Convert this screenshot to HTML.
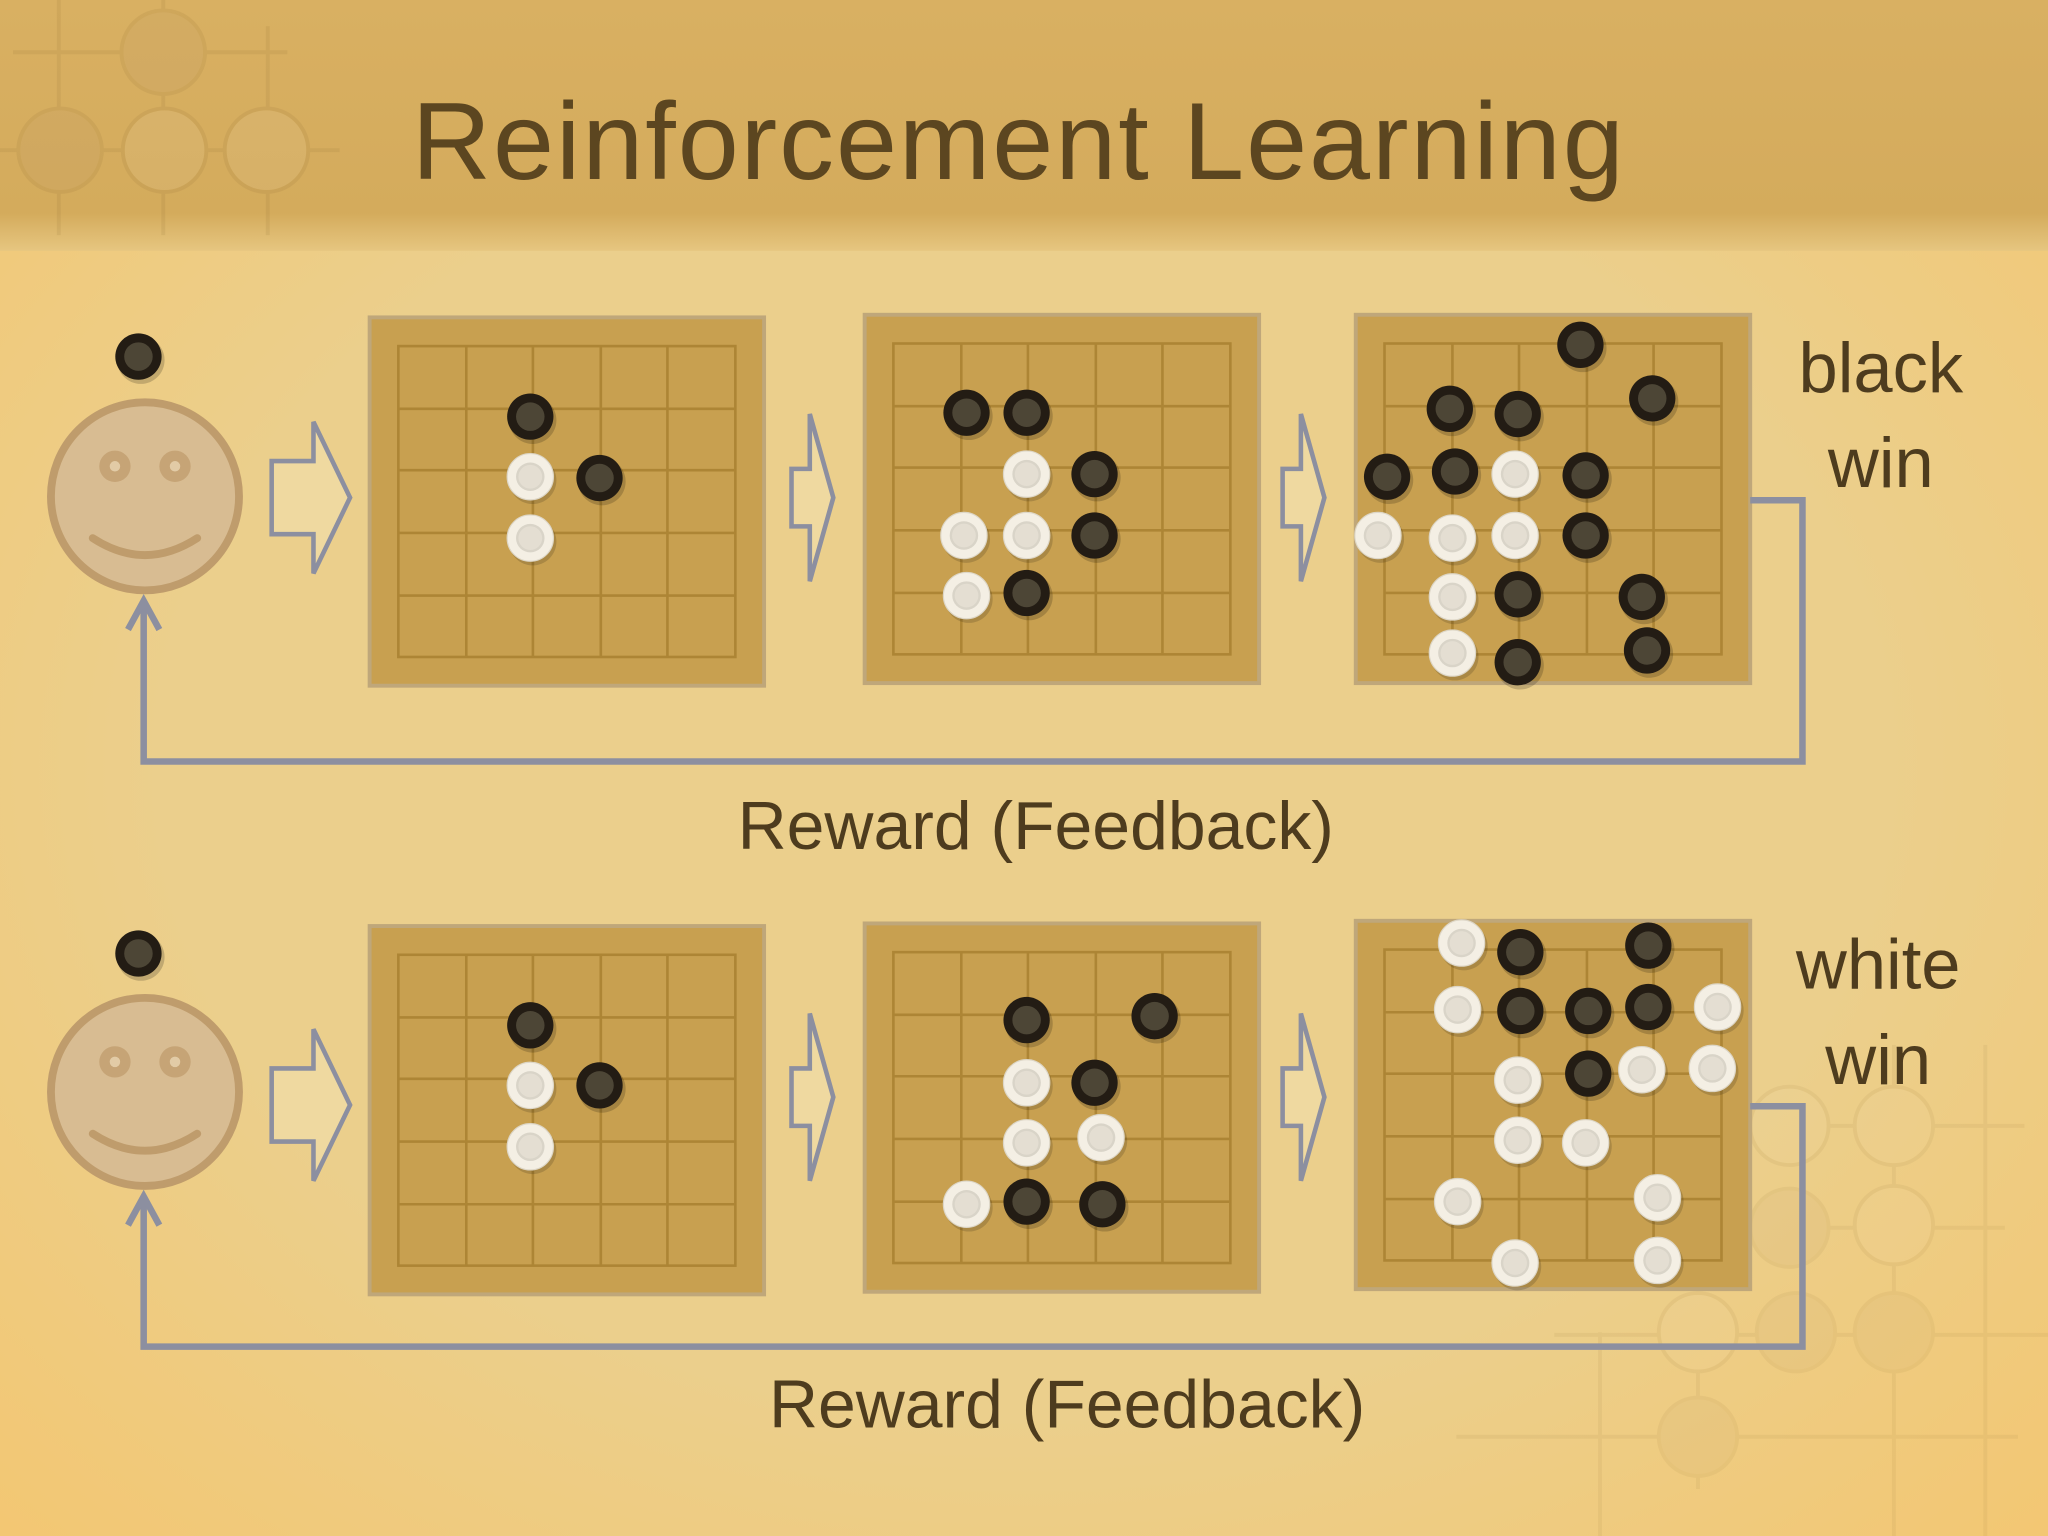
<!DOCTYPE html>
<html><head><meta charset="utf-8"><style>
html,body{margin:0;padding:0;width:2048px;height:1536px;overflow:hidden;background:#ebcf8c}
svg{display:block}
text{font-family:"Liberation Sans",sans-serif}
</style></head><body>
<svg width="2048" height="1536" viewBox="0 0 1568 1176" xmlns="http://www.w3.org/2000/svg">
<defs>
<radialGradient id="bg" cx="50%" cy="50%" r="70%">
<stop offset="0.6" stop-color="#ebcf8c"/><stop offset="1" stop-color="#f3c773"/>
</radialGradient>
<linearGradient id="hd" x1="0" y1="0" x2="0" y2="1">
<stop offset="0" stop-color="#d9b062"/><stop offset="0.85" stop-color="#d4ab5c"/><stop offset="1" stop-color="#e6c680"/>
</linearGradient>
<symbol id="bk" viewBox="-22 -22 44 44" overflow="visible">
<circle cx="2" cy="3" r="20" fill="#000" opacity="0.18"/>
<circle r="19.5" fill="#231c14"/><circle r="12" fill="#4d4636"/>
</symbol>
<symbol id="wt" viewBox="-22 -22 44 44" overflow="visible">
<circle cx="2" cy="3" r="20" fill="#000" opacity="0.15"/>
<circle r="19.5" fill="#f4efe4" stroke="#ddd6c6" stroke-width="1"/><circle r="12" fill="#d9d4c8"/><circle r="10" fill="#e4ded2"/>
</symbol>
<g id="board">
<rect x="0" y="0" width="302" height="282" fill="#c8a050" stroke="#bfa77a" stroke-width="3"/>
<g stroke="#ad8535" stroke-width="2" fill="none">
<rect x="22" y="22" width="258" height="238"/>
<line x1="74" y1="22" x2="74" y2="260"/><line x1="125" y1="22" x2="125" y2="260"/><line x1="177" y1="22" x2="177" y2="260"/><line x1="228" y1="22" x2="228" y2="260"/>
<line x1="22" y1="70" x2="280" y2="70"/><line x1="22" y1="117" x2="280" y2="117"/><line x1="22" y1="165" x2="280" y2="165"/><line x1="22" y1="213" x2="280" y2="213"/>
</g></g>
<g id="face">
<circle r="72" fill="#d8bc92" stroke="#bf9c6c" stroke-width="6"/>
<circle cx="-23" cy="-23" r="12" fill="#c6a476"/><circle cx="-23" cy="-23" r="4" fill="#e2cba6"/>
<circle cx="23" cy="-23" r="12" fill="#c6a476"/><circle cx="23" cy="-23" r="4" fill="#e2cba6"/>
<path d="M-40 32 Q0 58 40 32" fill="none" stroke="#bf9c6c" stroke-width="6" stroke-linecap="round"/>
</g>
<path id="bigarrow" d="M0 -28 H32 V-58 L60 0 L32 58 V28 H0 Z" fill="#efd9a0" stroke="#8c8fa0" stroke-width="3.5"/>
<path id="smarrow" d="M0 -22 H14 V-64 L32 0 L14 64 V22 H0 Z" fill="#efd9a0" stroke="#8c8fa0" stroke-width="3.5"/>
</defs>
<rect width="1568" height="1176" fill="url(#bg)"/>
<rect width="1568" height="192" fill="url(#hd)"/>
<g opacity="0.12" stroke="#8a6a30" stroke-width="3" fill="#b09070">
<line x1="10" y1="40" x2="220" y2="40"/><line x1="0" y1="115" x2="260" y2="115"/>
<line x1="45" y1="0" x2="45" y2="180"/><line x1="125" y1="0" x2="125" y2="180"/><line x1="205" y1="20" x2="205" y2="180"/>
<circle cx="125" cy="40" r="32"/><circle cx="46" cy="115" r="32"/><circle cx="126" cy="115" r="32" fill="#e8d8b8"/><circle cx="204" cy="115" r="32" fill="#e8d8b8"/>
</g>
<g opacity="0.08" stroke="#8a6a30" stroke-width="3" fill="#b09070">
<line x1="1340" y1="862" x2="1550" y2="862"/><line x1="1330" y1="940" x2="1535" y2="940"/><line x1="1190" y1="1022" x2="1568" y2="1022"/><line x1="1115" y1="1100" x2="1545" y2="1100"/>
<line x1="1300" y1="960" x2="1300" y2="1140"/><line x1="1450" y1="800" x2="1450" y2="1176"/><line x1="1520" y1="800" x2="1520" y2="1176"/><line x1="1225" y1="1020" x2="1225" y2="1176"/>
<circle cx="1370" cy="862" r="30" fill="#f0e0c0"/><circle cx="1450" cy="862" r="30" fill="#f0e0c0"/><circle cx="1450" cy="938" r="30" fill="#f0e0c0"/><circle cx="1370" cy="940" r="30"/>
<circle cx="1300" cy="1020" r="30" fill="#f0e0c0"/><circle cx="1375" cy="1020" r="30"/><circle cx="1450" cy="1020" r="30"/><circle cx="1300" cy="1100" r="30"/>
</g>
<text x="780" y="137" text-anchor="middle" font-size="84" fill="#5c4620" letter-spacing="1.5">Reinforcement Learning</text>

<!-- row 1 -->
<use href="#face" x="111" y="380"/>
<use href="#bk" x="86" y="253" width="40" height="40"/>
<use href="#bigarrow" x="208" y="381"/>
<use href="#smarrow" x="606" y="381"/>
<use href="#smarrow" x="982" y="381"/>
<use href="#board" x="283" y="243"/>
<use href="#board" x="662" y="241"/>
<use href="#board" x="1038" y="241"/>
<polyline points="1340,383 1380,383 1380,583 110,583 110,462" fill="none" stroke="#8c8fa0" stroke-width="5"/>
<polyline points="98,482 110,460 122,482" fill="none" stroke="#8c8fa0" stroke-width="5"/>
<text x="1440" y="300" text-anchor="middle" font-size="54" fill="#4e3c1e">black</text>
<text x="1440" y="373" text-anchor="middle" font-size="54" fill="#4e3c1e">win</text>
<text x="793" y="650" text-anchor="middle" font-size="52" fill="#4e3c1e">Reward (Feedback)</text>

<!-- row 2 -->
<use href="#face" x="111" y="836"/>
<use href="#bk" x="86" y="710" width="40" height="40"/>
<use href="#bigarrow" x="208" y="846"/>
<use href="#smarrow" x="606" y="840"/>
<use href="#smarrow" x="982" y="840"/>
<use href="#board" x="283" y="709"/>
<use href="#board" x="662" y="707"/>
<use href="#board" x="1038" y="705"/>
<polyline points="1340,847 1380,847 1380,1031 110,1031 110,918" fill="none" stroke="#8c8fa0" stroke-width="5"/>
<polyline points="98,938 110,916 122,938" fill="none" stroke="#8c8fa0" stroke-width="5"/>
<text x="1438" y="757" text-anchor="middle" font-size="54" fill="#4e3c1e">white</text>
<text x="1438" y="830" text-anchor="middle" font-size="54" fill="#4e3c1e">win</text>
<text x="817" y="1093" text-anchor="middle" font-size="52" fill="#4e3c1e">Reward (Feedback)</text>

<g id="stones">
<use href="#bk" x="386" y="299" width="40" height="40"/>
<use href="#wt" x="386" y="345" width="40" height="40"/>
<use href="#wt" x="386" y="392" width="40" height="40"/>
<use href="#bk" x="439" y="346" width="40" height="40"/>
<use href="#bk" x="720" y="296" width="40" height="40"/>
<use href="#bk" x="766" y="296" width="40" height="40"/>
<use href="#wt" x="766" y="343" width="40" height="40"/>
<use href="#bk" x="818" y="343" width="40" height="40"/>
<use href="#wt" x="718" y="390" width="40" height="40"/>
<use href="#wt" x="766" y="390" width="40" height="40"/>
<use href="#bk" x="818" y="390" width="40" height="40"/>
<use href="#wt" x="720" y="436" width="40" height="40"/>
<use href="#bk" x="766" y="434" width="40" height="40"/>
<use href="#bk" x="1190" y="244" width="40" height="40"/>
<use href="#bk" x="1090" y="293" width="40" height="40"/>
<use href="#bk" x="1142" y="297" width="40" height="40"/>
<use href="#bk" x="1245" y="285" width="40" height="40"/>
<use href="#bk" x="1042" y="345" width="40" height="40"/>
<use href="#bk" x="1094" y="341" width="40" height="40"/>
<use href="#wt" x="1140" y="343" width="40" height="40"/>
<use href="#bk" x="1194" y="344" width="40" height="40"/>
<use href="#wt" x="1035" y="390" width="40" height="40"/>
<use href="#wt" x="1092" y="392" width="40" height="40"/>
<use href="#wt" x="1140" y="390" width="40" height="40"/>
<use href="#bk" x="1194" y="390" width="40" height="40"/>
<use href="#wt" x="1092" y="437" width="40" height="40"/>
<use href="#bk" x="1142" y="435" width="40" height="40"/>
<use href="#bk" x="1237" y="437" width="40" height="40"/>
<use href="#wt" x="1092" y="480" width="40" height="40"/>
<use href="#bk" x="1142" y="487" width="40" height="40"/>
<use href="#bk" x="1241" y="478" width="40" height="40"/>
<use href="#bk" x="386" y="765" width="40" height="40"/>
<use href="#wt" x="386" y="811" width="40" height="40"/>
<use href="#bk" x="439" y="811" width="40" height="40"/>
<use href="#wt" x="386" y="858" width="40" height="40"/>
<use href="#bk" x="766" y="761" width="40" height="40"/>
<use href="#bk" x="864" y="758" width="40" height="40"/>
<use href="#wt" x="766" y="809" width="40" height="40"/>
<use href="#bk" x="818" y="809" width="40" height="40"/>
<use href="#wt" x="766" y="855" width="40" height="40"/>
<use href="#wt" x="823" y="851" width="40" height="40"/>
<use href="#wt" x="720" y="902" width="40" height="40"/>
<use href="#bk" x="766" y="900" width="40" height="40"/>
<use href="#bk" x="824" y="902" width="40" height="40"/>
<use href="#wt" x="1099" y="702" width="40" height="40"/>
<use href="#bk" x="1144" y="709" width="40" height="40"/>
<use href="#bk" x="1242" y="704" width="40" height="40"/>
<use href="#wt" x="1096" y="753" width="40" height="40"/>
<use href="#bk" x="1144" y="754" width="40" height="40"/>
<use href="#bk" x="1196" y="754" width="40" height="40"/>
<use href="#bk" x="1242" y="751" width="40" height="40"/>
<use href="#wt" x="1295" y="751" width="40" height="40"/>
<use href="#wt" x="1142" y="807" width="40" height="40"/>
<use href="#bk" x="1196" y="802" width="40" height="40"/>
<use href="#wt" x="1237" y="799" width="40" height="40"/>
<use href="#wt" x="1291" y="798" width="40" height="40"/>
<use href="#wt" x="1142" y="853" width="40" height="40"/>
<use href="#wt" x="1194" y="855" width="40" height="40"/>
<use href="#wt" x="1096" y="900" width="40" height="40"/>
<use href="#wt" x="1249" y="897" width="40" height="40"/>
<use href="#wt" x="1140" y="947" width="40" height="40"/>
<use href="#wt" x="1249" y="945" width="40" height="40"/>
</g>
</svg>
</body></html>
